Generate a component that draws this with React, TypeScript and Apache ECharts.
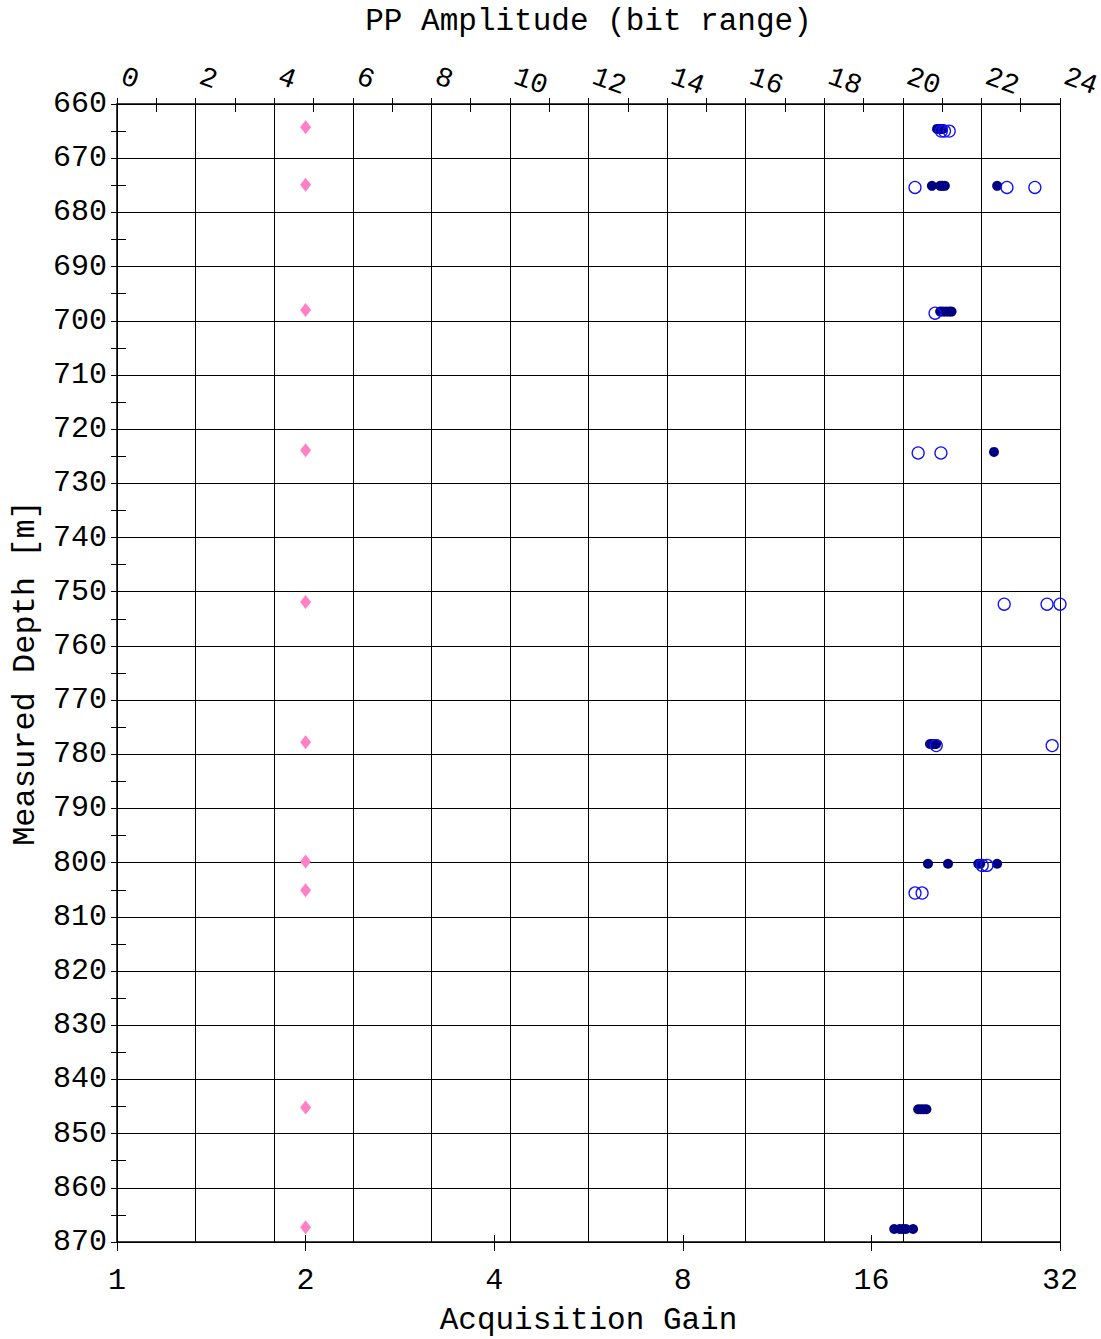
import React, { useEffect, useRef } from "react";
import * as echarts from "echarts";

// ---- data ----
const depthRange = [660, 870];
const ampRange = [0, 24];
const gainRange = [1, 32];

const diamondDepths = [664.3, 674.9, 698.0, 723.9, 751.9, 777.8, 799.8, 805.1, 845.2, 867.3];
const diamondGains = [2, 2, 2, 2, 2, 2, 2, 2, 2, 2];

const filledDepths = [
  664.6, 664.6, 664.6, 664.6,
  675.1, 675.1, 675.1, 675.1, 675.1,
  698.3, 698.3, 698.3, 698.3, 698.3,
  724.2,
  778.1, 778.1, 778.1, 778.1,
  800.2, 800.2, 800.2, 800.2, 800.2,
  845.5, 845.5, 845.5, 845.5,
  867.6, 867.6, 867.6, 867.6, 867.6,
];
const filledAmps = [
  20.87, 20.93, 20.98, 21.02,
  20.74, 20.95, 21.0, 21.07, 22.4,
  20.95, 21.02, 21.1, 21.18, 21.24,
  22.32,
  20.69, 20.74, 20.8, 20.85,
  20.64, 21.15, 21.92, 21.97, 22.4,
  20.39, 20.46, 20.53, 20.6,
  19.78, 19.92, 20.0, 20.08, 20.26,
];

const openDepths = [
  665.0, 665.0, 665.0,
  675.4, 675.4, 675.4,
  698.6,
  724.4, 724.4,
  752.3, 752.3, 752.3,
  778.4, 778.4,
  800.5, 800.5,
  805.6, 805.6,
];
const openAmps = [
  20.98, 21.06, 21.18,
  20.31, 22.65, 23.36,
  20.82,
  20.39, 20.97,
  22.58, 23.67, 24.0,
  20.85, 23.8,
  22.02, 22.14,
  20.31, 20.49,
];

const MONO = "'Liberation Mono', 'DejaVu Sans Mono', monospace";

export default function App() {
  const ref = useRef<HTMLDivElement>(null);
  useEffect(() => {
    if (!ref.current) return;
    const chart = echarts.init(ref.current, null, { renderer: "svg" });
    const black = "#000";
    const textStyle = { fontFamily: MONO, fontSize: 30, color: black };
    const titleStyle = { fontFamily: MONO, fontSize: 31, lineHeight: 31, color: black };
    const option: any = {
      animation: false,
      backgroundColor: "#fff",
      grid: {
        left: 117,
        right: 41,
        top: 104,
        bottom: 97,
        containLabel: false,
        outerBoundsMode: "none",
      },
      xAxis: [
        {
          type: "log",
          logBase: 2,
          min: gainRange[0],
          max: gainRange[1],
          position: "bottom",
          axisLine: { show: true, lineStyle: { color: black, width: 1.5 } },
          axisTick: { show: true, length: 9, lineStyle: { color: black, width: 1 } },
          minorTick: { show: false },
          splitLine: { show: false },
          axisLabel: {
            ...textStyle,
            margin: 24,
            formatter: (v: number) => String(Math.round(v)),
          },
          name: "Acquisition Gain",
          nameLocation: "middle",
          nameGap: 63,
          nameMoveOverlap: false,
          nameTextStyle: { ...titleStyle },
        },
        {
          type: "value",
          min: ampRange[0],
          max: ampRange[1],
          interval: 2,
          position: "top",
          axisLine: { show: true, lineStyle: { color: black, width: 1.5 } },
          axisTick: { show: true, length: 6, lineStyle: { color: black, width: 1 } },
          minorTick: { show: true, splitNumber: 2, length: 6, lineStyle: { color: black, width: 1 } },
          splitLine: { show: true, lineStyle: { color: black, width: 1 } },
          axisLabel: {
            fontFamily: MONO,
            fontSize: 28,
            color: black,
            rotate: 20,
            align: "left",
            verticalAlign: "bottom",
            margin: 15,
          },
          name: "PP Amplitude (bit range)",
          nameLocation: "middle",
          nameGap: 67,
          nameMoveOverlap: false,
          nameTextStyle: { ...titleStyle },
        },
        {
          type: "log",
          logBase: 2,
          min: gainRange[0],
          max: gainRange[1],
          position: "bottom",
          axisLine: { show: false },
          axisTick: { show: true, inside: true, length: 7, lineStyle: { color: black, width: 1 } },
          minorTick: { show: false },
          splitLine: { show: false },
          axisLabel: { show: false },
        },
        {
          type: "value",
          min: ampRange[0],
          max: ampRange[1],
          interval: 2,
          position: "top",
          axisLine: { show: false },
          axisTick: { show: false, inside: true },
          minorTick: { show: true, splitNumber: 2, length: 8, lineStyle: { color: black, width: 1 } },
          splitLine: { show: false },
          axisLabel: { show: false },
        },
      ],
      yAxis: [
        {
          type: "value",
          inverse: true,
          min: depthRange[0],
          max: depthRange[1],
          interval: 10,
          position: "left",
          axisLine: { show: true, lineStyle: { color: black, width: 1.5 } },
          axisTick: { show: true, length: 6, lineStyle: { color: black, width: 1 } },
          minorTick: { show: true, splitNumber: 2, length: 6, lineStyle: { color: black, width: 1 } },
          splitLine: { show: true, lineStyle: { color: black, width: 1 } },
          axisLabel: { ...textStyle, margin: 10, padding: [5, 0, 0, 0] },
          name: "Measured Depth [m]",
          nameLocation: "middle",
          nameGap: 76,
          nameRotate: 90,
          nameMoveOverlap: false,
          nameTextStyle: { fontFamily: MONO, fontSize: 32, lineHeight: 32, color: black },
        },
        {
          type: "value",
          inverse: true,
          min: depthRange[0],
          max: depthRange[1],
          interval: 10,
          position: "left",
          axisLine: { show: false },
          axisTick: { show: false, inside: true },
          minorTick: { show: true, splitNumber: 2, length: 9, lineStyle: { color: black, width: 1 } },
          splitLine: { show: false },
          axisLabel: { show: false },
        },
      ],
      series: [
        {
          type: "scatter",
          name: "Gain",
          xAxisIndex: 0,
          yAxisIndex: 0,
          symbol: "diamond",
          symbolSize: [11, 14],
          itemStyle: { color: "#ff80c4", opacity: 1 },
          data: diamondDepths.map((d, i) => [diamondGains[i], d]),
        },
        {
          type: "scatter",
          name: "PP filled",
          xAxisIndex: 1,
          yAxisIndex: 0,
          symbol: "circle",
          symbolSize: 10,
          itemStyle: { color: "#000080", opacity: 1 },
          data: filledDepths.map((d, i) => [filledAmps[i], d]),
        },
        {
          type: "scatter",
          name: "PP open",
          xAxisIndex: 1,
          yAxisIndex: 0,
          symbol: "circle",
          symbolSize: 12,
          clip: false,
          itemStyle: { color: "rgba(0,0,0,0)", borderColor: "#1010ff", borderWidth: 1.3, opacity: 1 },
          data: openDepths.map((d, i) => [openAmps[i], d]),
        },
      ],
    };
    chart.setOption(option);
    return () => chart.dispose();
  }, []);
  return (
    <div
      ref={ref}
      style={{ position: "absolute", left: 0, top: 0, width: 1101, height: 1339, background: "#fff" }}
    />
  );
}
